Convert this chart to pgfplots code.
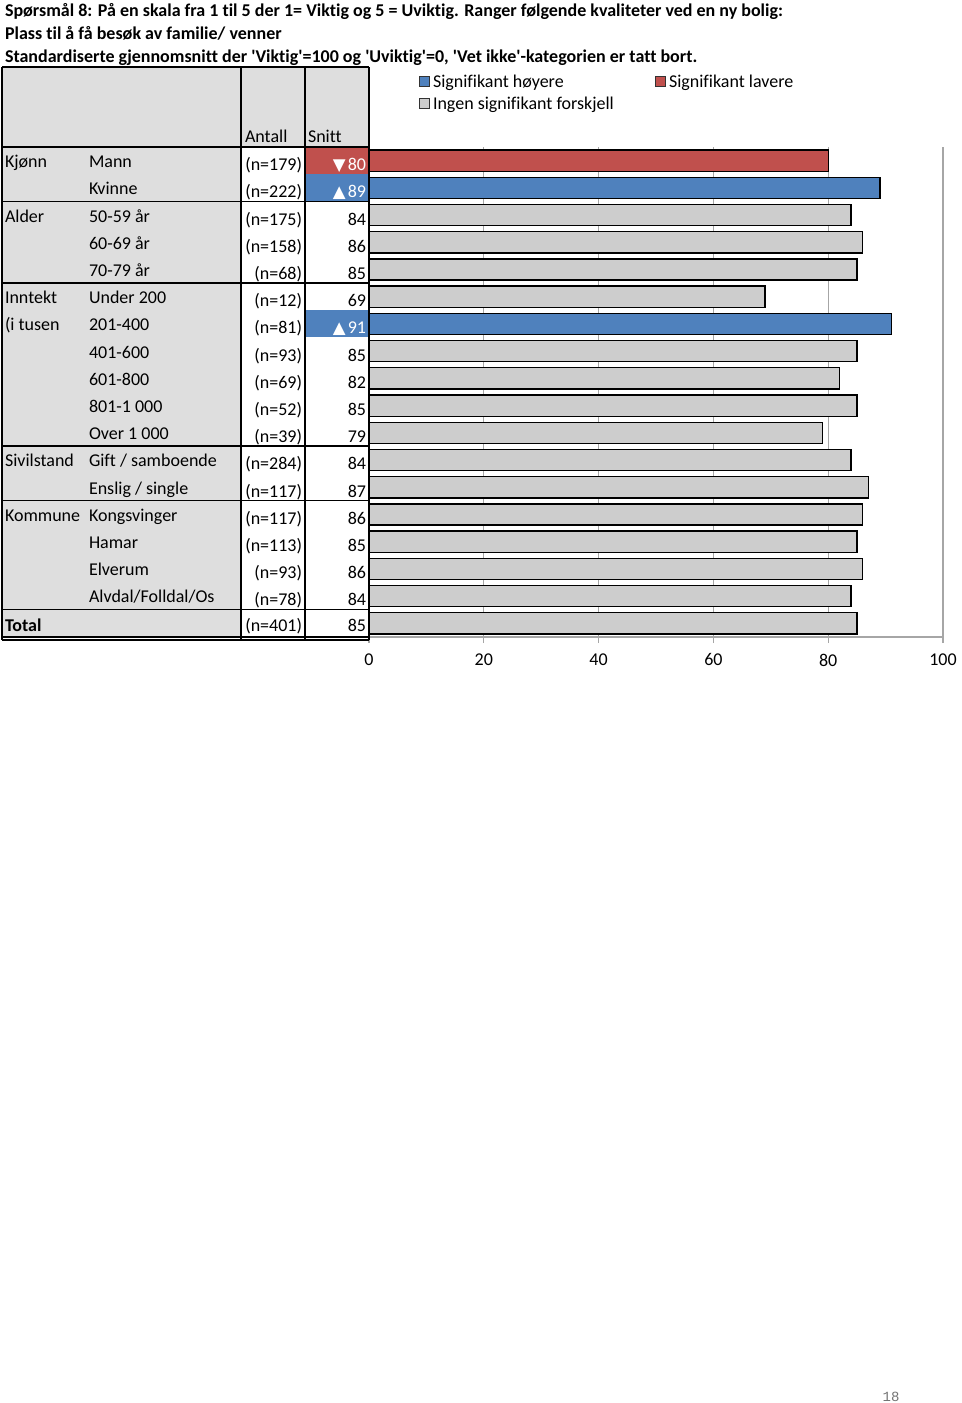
\documentclass[border=0pt]{standalone}
\usepackage{pgfplots}
\pgfplotsset{compat=1.18}
\usepackage{fontspec}
\setmainfont{Carlito}[Ligatures=NoCommon]
\newfontfamily\sym{DejaVu Sans}
\newfontfamily\pgnum{Liberation Mono}
\definecolor{sigred}{HTML}{C0504D}
\definecolor{sigblue}{HTML}{4F81BD}
\definecolor{bargrey}{HTML}{CDCDCD}
\definecolor{tabgrey}{HTML}{DEDEDE}
\definecolor{gridgrey}{HTML}{A6A6A6}
\newcommand{\fs}{\fontsize{13.5}{15}\selectfont}
\newcommand{\q}{\textquotesingle}
\newcommand{\up}{{\sym\fontsize{12.5}{14}\selectfont ▲}\hspace{1.5pt}}
\newcommand{\down}{{\sym\fontsize{12.5}{14}\selectfont ▼}\hspace{1.5pt}}
\newcommand{\grp}[2]{\node[anchor=base west] at (5,{167.6+27.2*#1}) {#2};}
\newcommand{\lab}[2]{\node[anchor=base west] at (89,{167.6+27.2*#1}) {#2};}
\newcommand{\ant}[2]{\node[anchor=base east] at (302,{170.6+27.2*#1}) {(n=#2)};}
\newcommand{\snt}[2]{\node[anchor=base east] at (366,{170.6+27.2*#1}) {#2};}
\begin{document}
\begin{tikzpicture}[x=0.75pt,y=-0.75pt]
\path (0,0) rectangle (960,1403);
\begin{scope}[every node/.style={inner sep=0pt, outer sep=0pt, font=\fs}]
% titles
\node[anchor=base west, font=\bfseries\fs] at (5,16) {Spørsmål 8: På en skala fra 1 til 5 der 1= Viktig og 5 = Uviktig. Ranger følgende kvaliteter ved en ny bolig:};
\node[anchor=base west, font=\bfseries\fs] at (5,39) {Plass til å få besøk av familie/ venner};
\node[anchor=base west, font=\bfseries\fs] at (5,62) {Standardiserte gjennomsnitt der \q Viktig\q=100 og \q Uviktig\q=0, \q Vet ikke\q-kategorien er tatt bort.};
% legend
\filldraw[fill=sigblue, draw=black!80, line width=0.6pt] (419,76) rectangle (429,86);
\node[anchor=base west] at (433,87) {Signifikant høyere};
\filldraw[fill=sigred, draw=black!80, line width=0.6pt] (655,76) rectangle (665,86);
\node[anchor=base west] at (669,87) {Signifikant lavere};
\filldraw[fill=bargrey, draw=black!80, line width=0.6pt] (419,98) rectangle (429,108);
\node[anchor=base west] at (433,109) {Ingen signifikant forskjell};
% table fills
\fill[tabgrey] (2,67) rectangle (369,147);
\fill[tabgrey] (2,147) rectangle (241,637);
\fill[sigred] (305,147) rectangle (369,174.2);
\fill[sigblue] (305,174.2) rectangle (369,201.4);
\fill[sigblue] (305,310.2) rectangle (369,337.4);
\end{scope}

\begin{axis}[at={(276.75pt,-477.75pt)}, anchor=south west, scale only axis,
  width=430.5pt, height=367.5pt,
  xmin=0, xmax=100, ymin=-0.5, ymax=17.5, y dir=reverse,
  xbar, bar shift=0pt, bar width=0.78,
  axis y line=none, axis x line*=bottom,
  x axis line style={gridgrey, line width=0.8pt, -},
  xtick={0,20,40,60,80,100}, ytick=\empty,
  xmajorgrids, grid style={gridgrey, line width=0.8pt},
  tick align=outside, major tick length=4.5pt,
  xtick style={gridgrey, line width=0.8pt},
  xticklabel style={font=\fs, text=black, yshift=-4.5pt},
  /pgf/number format/assume math mode=true,
  clip=false]
\addplot[fill=sigred, draw=black, line width=1.05pt] coordinates {(80,0)};
\addplot[fill=sigblue, draw=black, line width=1.05pt] coordinates {(89,1) (91,6)};
\addplot[fill=bargrey, draw=black, line width=1.05pt] coordinates {
(84,2) (86,3) (85,4) (69,5) (85,7) (82,8) (85,9) (79,10)
(84,11) (87,12) (86,13) (85,14) (86,15) (84,16) (85,17)};
\end{axis}

\begin{scope}[every node/.style={inner sep=0pt, outer sep=0pt, font=\fs}]
% header text
\node[anchor=base west] at (245,142) {Antall};
\node[anchor=base west] at (308,142) {Snitt};
% group labels
\grp{0}{Kjønn}
\grp{2}{Alder}
\grp{5}{Inntekt}
\grp{6}{(i tusen}
\grp{11}{Sivilstand}
\grp{13}{Kommune}
\node[anchor=base west, font=\bfseries\fs] at (5,631) {Total};
% sub labels
\lab{0}{Mann}
\lab{1}{Kvinne}
\lab{2}{50-59 år}
\lab{3}{60-69 år}
\lab{4}{70-79 år}
\lab{5}{Under 200}
\lab{6}{201-400}
\lab{7}{401-600}
\lab{8}{601-800}
\lab{9}{801-1 000}
\lab{10}{Over 1 000}
\lab{11}{Gift / samboende}
\lab{12}{Enslig / single}
\lab{13}{Kongsvinger}
\lab{14}{Hamar}
\lab{15}{Elverum}
\lab{16}{Alvdal/Folldal/Os}
% n
\ant{0}{179}\ant{1}{222}\ant{2}{175}\ant{3}{158}\ant{4}{68}\ant{5}{12}
\ant{6}{81}\ant{7}{93}\ant{8}{69}\ant{9}{52}\ant{10}{39}\ant{11}{284}
\ant{12}{117}\ant{13}{117}\ant{14}{113}\ant{15}{93}\ant{16}{78}
\node[anchor=base east] at (302,631) {(n=401)};
% snitt
\snt{0}{\textcolor{white}{\down 80}}
\snt{1}{\textcolor{white}{\up 89}}
\snt{2}{84}\snt{3}{86}\snt{4}{85}\snt{5}{69}
\snt{6}{\textcolor{white}{\up 91}}
\snt{7}{85}\snt{8}{82}\snt{9}{85}\snt{10}{79}\snt{11}{84}\snt{12}{87}
\snt{13}{86}\snt{14}{85}\snt{15}{86}\snt{16}{84}
\node[anchor=base east] at (366,631) {85};
% lines
\begin{scope}[line width=1.3pt, black]
\draw (2,67) -- (369,67);
\draw (2,67) -- (2,640);
\draw (241,67) -- (241,640);
\draw (305,67) -- (305,640);
\draw (369,67) -- (369,640);
\foreach \yy in {147,201.4,283,446,500.6,609.4,637,640}
  \draw (2,\yy) -- (369,\yy);
\end{scope}
% page number
\node[anchor=base, font=\pgnum\fontsize{10.5}{12}\selectfont, text=black!55] at (891,1401) {18};
\end{scope}
\end{tikzpicture}
\end{document}
